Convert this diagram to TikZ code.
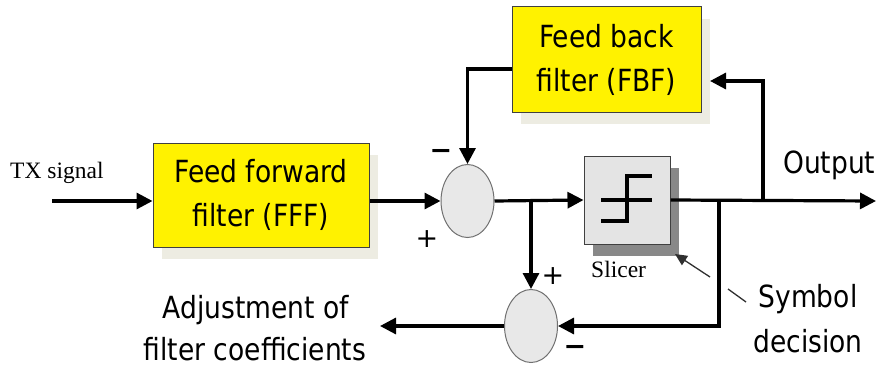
\documentclass[tikz,border=0pt]{standalone}
\usepackage{fontspec}
\setmainfont{Liberation Serif}
\newfontfamily\tah{DejaVu Sans}[FakeStretch=0.87]
\newfontfamily\pmfont{DejaVu Sans}
\usetikzlibrary{shapes.geometric,arrows.meta,calc,shadows}
\definecolor{boxline}{HTML}{404040}
\definecolor{beigeshadow}{HTML}{EDECE2}
\definecolor{sumfill}{HTML}{E8E8E8}
\definecolor{sumline}{HTML}{707070}
\definecolor{slfill}{HTML}{E4E4E4}
\definecolor{slshadow}{HTML}{888888}
\definecolor{pointer}{HTML}{303030}
\tikzset{
  filterbox/.style={draw=boxline, line width=1pt, fill=yellow, inner sep=0pt,
    align=center, font=\tah\fontsize{30.5}{44}\selectfont,
    drop shadow={shadow xshift=9pt, shadow yshift=-12pt, fill=beigeshadow, opacity=1}},
  sumnode/.style={ellipse, draw=sumline, line width=1pt, fill=sumfill,
    minimum width=53pt, minimum height=73pt, inner sep=0pt},
  slicerbox/.style={draw=boxline, line width=1pt, fill=slfill, inner sep=0pt,
    minimum width=86pt, minimum height=88pt,
    drop shadow={shadow xshift=9pt, shadow yshift=-12pt, fill=slshadow, opacity=1}},
  sig/.style={line width=3.2pt, -{Triangle[length=16pt,width=16pt]}},
  wire/.style={line width=3.2pt},
  lbl/.style={font=\tah\fontsize{30.5}{44}\selectfont, inner sep=0pt},
  serlbl/.style={font=\fontsize{23.5}{28}\selectfont, inner sep=0pt},
  pm/.style={font=\pmfont\fontsize{27}{30}\selectfont, inner sep=0pt},
}
\begin{document}
\begin{tikzpicture}[x=1pt,y=-1pt]
\useasboundingbox (0,0) rectangle (880,369);

% blocks
\node[filterbox, minimum width=216pt, minimum height=104pt] (fff) at (261,195) {Feed forward\\filter (FFF)};
\node[filterbox, minimum width=189pt, minimum height=105pt] (fbf) at (606.5,59.5) {Feed back\\filter (FBF)};
\node[sumnode] (s1) at (467.5,201) {};
\node[sumnode] (s2) at (531,326) {};
\node[slicerbox] (sl) at (627,200) {};

% step symbol inside slicer
\draw[wire] (601,221) -- (627,221) -- (627,176) -- (652,176);
\draw[wire] (601,200) -- (652,200);

% coordinates
\coordinate (txs) at (52,201);
\coordinate (t1) at (531,201);
\coordinate (t2) at (719,201);
\coordinate (t3) at (763,201);
\coordinate (outp) at (876,201);
\coordinate (fbin) at (710,81);
\coordinate (fbl) at (512,69);
\coordinate (adj) at (380,326);
\coordinate (p1) at (710,277);
\coordinate (p2) at (675,254);
\coordinate (p3) at (728,289);
\coordinate (p4) at (746,302);

% connectors
\draw[sig] (txs) -- (fff.west |- txs);
\draw[sig] (fff.east |- txs) -- (s1.west);
\draw[sig] (s1.east) -- (sl.west);
\draw[sig] (t1) -- (s2.north);
\draw[sig] (sl.east) -- (outp);
\draw[sig] (t3) |- (fbin);
\draw[sig] (fbl) -| (s1.north);
\draw[sig] (t2) |- (s2.east);
\draw[sig] (s2.west) -- (adj);
\draw[pointer, line width=1.3pt, -{Triangle[length=12pt,width=11pt]}] (p1) -- (p2);
\draw[pointer, line width=1.3pt] (p3) -- (p4);

% labels
\node[serlbl, anchor=base west] (tx) at (10,178) {TX signal};
\node[serlbl, anchor=base west] (slc) at (591,277) {Slicer};
\node[lbl, anchor=base west] (out) at (783,173) {Output};
\node[lbl, anchor=base] (sym1) at (808,307) {Symbol};
\node[lbl, anchor=base] (sym2) at (808,352) {decision};
\node[lbl, anchor=base] (adj1) at (256,318) {Adjustment of};
\node[lbl, anchor=base] (adj2) at (255,360) {filter coefficients};

% signs
\node[pm] (m1) at (441,154) {\bfseries −};
\node[pm] (p1s) at (427,239) {+};
\node[pm] (p2s) at (553,276) {+};
\node[pm] (m2) at (575,350) {\bfseries −};
\end{tikzpicture}
\end{document}
